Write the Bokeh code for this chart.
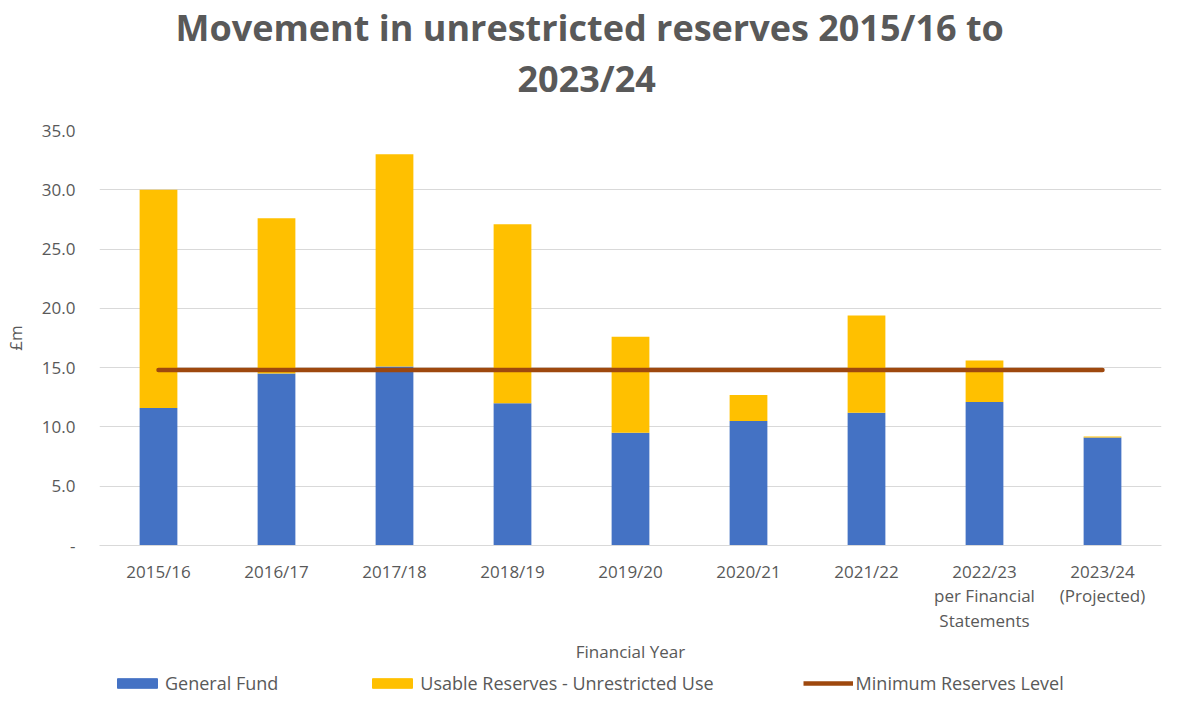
from bokeh.plotting import figure
from bokeh.layouts import column
from bokeh.models import (Title, Legend, LegendItem, ColumnDataSource,
                          CustomJSTickFormatter, SingleIntervalTicker, Range1d)
from bokeh.embed import file_html
from bokeh.resources import INLINE

# ---- data ----
years = ["2015/16", "2016/17", "2017/18", "2018/19", "2019/20", "2020/21",
         "2021/22", "2022/23\nper Financial\nStatements", "2023/24\n(Projected)"]
general_fund = [11.6, 14.5, 15.1, 12.0, 9.5, 10.5, 11.2, 12.1, 9.1]
usable_unrestricted = [18.4, 13.1, 17.9, 15.1, 8.1, 2.2, 8.2, 3.5, 0.1]
minimum_reserves = [14.8, 14.8, 14.8, 14.8, 14.8, 14.8, 14.8, 14.8, 14.8]
series_names = ["General Fund", "Usable Reserves - Unrestricted Use",
                "Minimum Reserves Level"]

TEXT = "#595959"
FONT = "Open Sans"
BLUE, GOLD, BROWN = "#4472C4", "#FFC000", "#9E480E"
NAN = float("nan")

src = ColumnDataSource(dict(year=years, gf=general_fund, ur=usable_unrestricted,
                            mr=minimum_reserves))

p = figure(x_range=years, y_range=(0, 35), width=1163, height=668,
           output_backend="svg", toolbar_location=None,
           title="Movement in unrestricted reserves 2015/16 to",
           min_border_left=89, min_border_right=2,
           min_border_top=0, min_border_bottom=123)

# titles (two centred lines, stacked above the frame)
p.title.align = "left"
p.title.text_font = FONT
p.title.text_font_size = "36px"
p.title.text_font_style = "bold"
p.title.text_color = TEXT
p.title.offset = 76
p.title.standoff = 0
spacer = Title(text=" ", text_font_size="8px", standoff=17)
p.add_layout(spacer, "above")
t2 = Title(text="2023/24", align="left",
           text_font=FONT, text_font_size="36px", text_font_style="bold",
           text_color=TEXT, offset=418, standoff=0)
p.add_layout(t2, "above")

bars = p.vbar_stack(["gf", "ur"], x="year", width=0.32, source=src,
                    color=[BLUE, GOLD], line_color=None)
ln = p.line(x="year", y="mr", source=src, line_color=BROWN,
            line_width=4.5, line_cap="round")

# axes
p.yaxis.ticker = SingleIntervalTicker(interval=5)
p.yaxis.formatter = CustomJSTickFormatter(
    code="return tick == 0 ? '-' : tick.toFixed(1);")
p.yaxis.axis_label = "£m"
p.yaxis.axis_line_color = None
p.yaxis.major_tick_line_color = None
p.yaxis.minor_tick_line_color = None
p.yaxis.major_label_standoff = 18
p.yaxis.axis_label_standoff = 12
for ax in (p.xaxis, p.yaxis):
    ax.major_label_text_font = FONT
    ax.major_label_text_font_size = "17px"
    ax.major_label_text_color = TEXT
    ax.axis_label_text_font = FONT
    ax.axis_label_text_font_size = "17px"
    ax.axis_label_text_font_style = "normal"
    ax.axis_label_text_color = TEXT

p.xaxis.axis_label = "Financial Year"
p.xaxis.axis_line_color = "#D9D9D9"
p.xaxis.major_tick_line_color = None
p.xaxis.minor_tick_line_color = None
p.xaxis.major_label_standoff = 8
p.xaxis.axis_label_standoff = 5
p.xaxis.major_label_text_line_height = 1.08

p.xgrid.grid_line_color = None
p.ygrid.grid_line_color = "#D9D9D9"
p.outline_line_color = None

# legend strip below the chart (sample renderers hold no drawable data)
lf = figure(width=1163, height=27, output_backend="svg", toolbar_location=None,
            x_range=Range1d(0, 1), y_range=Range1d(0, 1),
            x_axis_type=None, y_axis_type=None, min_border=0)
lf.xgrid.grid_line_color = None
lf.ygrid.grid_line_color = None
lf.outline_line_color = None
r1 = lf.vbar(x=[NAN], top=[NAN], width=1, color=BLUE)
r2 = lf.vbar(x=[NAN], top=[NAN], width=1, color=GOLD)
r3 = lf.line(x=[NAN, NAN], y=[NAN, NAN], line_color=BROWN, line_width=4.5)
legend = Legend(items=[
    LegendItem(label=series_names[0], renderers=[r1]),
    LegendItem(label=series_names[1], renderers=[r2]),
    LegendItem(label=series_names[2], renderers=[r3]),
], orientation="horizontal", location=(13, 0), spacing=89,
    glyph_width=50, glyph_height=12, label_text_font=FONT,
    label_text_font_size="18px", label_text_color=TEXT,
    border_line_color=None, background_fill_alpha=0, padding=2, margin=0,
    label_standoff=3)
lf.add_layout(legend, "center")

layout = column(p, lf, spacing=0)
open("out.html", "w").write(file_html(layout, INLINE))
